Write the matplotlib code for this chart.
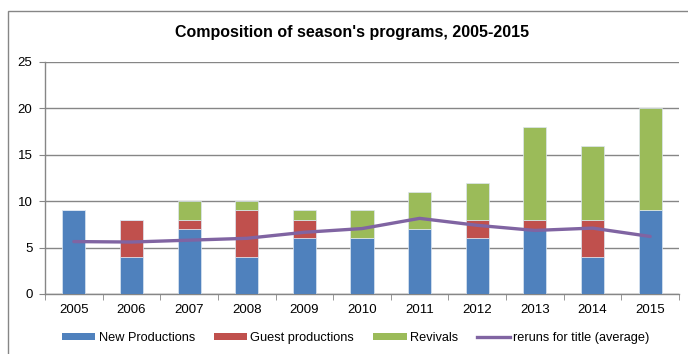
import matplotlib
matplotlib.use("Agg")
import matplotlib.pyplot as plt
from matplotlib.patches import Rectangle, Patch
from matplotlib.lines import Line2D
import numpy as np

plt.rcParams['font.family'] = ['Liberation Sans', 'DejaVu Sans']

years = ["2005", "2006", "2007", "2008", "2009", "2010", "2011", "2012", "2013", "2014", "2015"]
new_productions = [9, 4, 7, 4, 6, 6, 7, 6, 7, 4, 9]
guest_productions = [0, 4, 1, 5, 2, 0, 0, 2, 1, 4, 0]
revivals = [0, 0, 2, 1, 1, 3, 4, 4, 10, 8, 11]
reruns_avg = [5.65, 5.6, 5.8, 6.0, 6.65, 7.05, 8.15, 7.4, 6.85, 7.1, 6.2]
y_ticks = [0, 5, 10, 15, 20, 25]

c_new = "#4F81BD"
c_guest = "#C0504D"
c_rev = "#9BBB59"
c_line = "#8064A2"
c_axis = "#868686"

fig = plt.figure(figsize=(6.88, 3.54), dpi=100)
fig.patch.set_facecolor("white")

# chart-area border
fig.patches.append(Rectangle((8 / 688, -0.1), 1.2, 1 - 11 / 354 + 0.1,
                             transform=fig.transFigure, fill=False,
                             edgecolor=c_axis, linewidth=1.0))

ax = fig.add_axes([45 / 688, 1 - 294 / 354, 634 / 688, (294 - 62) / 354])

x = np.arange(len(years))
w = 0.4
new_a = np.array(new_productions)
guest_a = np.array(guest_productions)
rev_a = np.array(revivals)
ek = dict(edgecolor="#DCE6F2", linewidth=0.5, zorder=3)
ax.bar(x, new_a, w, color=c_new, **ek)
ax.bar(x, guest_a, w, bottom=new_a, color=c_guest, **ek)
ax.bar(x, rev_a, w, bottom=new_a + guest_a, color=c_rev, **ek)
ax.plot(x, reruns_avg, color=c_line, linewidth=2.4, solid_capstyle="round",
        solid_joinstyle="round", zorder=4)

ax.set_xlim(-0.5, len(years) - 0.5)
ax.set_ylim(0, 25)
ax.set_yticks(y_ticks)
ax.set_yticklabels([str(t) for t in y_ticks], fontsize=9.5)
ax.set_xticks(x)
ax.set_xticklabels(years, fontsize=9.5)
ax.tick_params(axis="x", length=0, pad=7)
ax.set_xticks(np.arange(-0.5, len(years), 1), minor=True)
ax.tick_params(axis="x", which="minor", length=4, color=c_axis, direction="out")
ax.tick_params(axis="y", length=4, color=c_axis, pad=5)
ax.yaxis.grid(True, color=c_axis, linewidth=1.0)
ax.set_axisbelow(True)
for s in ("top", "right"):
    ax.spines[s].set_visible(False)
for s in ("left", "bottom"):
    ax.spines[s].set_color(c_axis)
    ax.spines[s].set_linewidth(1.0)

fig.text(352 / 688, 1 - 33 / 354, "Composition of season's programs, 2005-2015",
         ha="center", va="center", fontsize=11.5, fontweight="bold")

handles = [Patch(facecolor=c_new), Patch(facecolor=c_guest), Patch(facecolor=c_rev),
           Line2D([0], [0], color=c_line, linewidth=2.4)]
labels = ["New Productions", "Guest productions", "Revivals", "reruns for title (average)"]
fig.legend(handles, labels, loc="center", bbox_to_anchor=(356 / 688, 1 - 338 / 354),
           ncol=4, frameon=False, fontsize=9.2, handlelength=2.6, handleheight=0.55,
           handletextpad=0.25, columnspacing=1.5, borderpad=0)

fig.savefig("out.png", dpi=100)
